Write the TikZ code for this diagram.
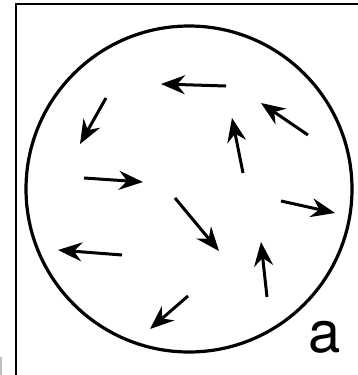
\documentclass[tikz,border=0pt]{standalone}
\usepackage{fontspec}
\setmainfont{TeX Gyre Heros}
\usetikzlibrary{arrows.meta}
\begin{document}
\begin{tikzpicture}[x=1pt,y=-1pt,
  vec/.style={line width=3pt,-{Stealth[length=24pt,width=19pt,inset=8pt]}},
  frameline/.style={line width=1.8pt},
  rim/.style={line width=3.2pt}]
\useasboundingbox (0,0) rectangle (358,375);
\fill[white] (0,0) rectangle (358,375);
\draw[frameline] (16,375) -- (16,4) -- (358,4);
\draw[line width=2pt,black!25] (1,357) -- (1,375);
\draw[rim] (189,189) circle[radius=163];
\coordinate (t1) at (226,86);  \coordinate (h1) at (161,84);
\coordinate (t2) at (106,98);  \coordinate (h2) at (80,144);
\coordinate (t3) at (308,135); \coordinate (h3) at (261,103);
\coordinate (t4) at (243,173); \coordinate (h4) at (232,118);
\coordinate (t5) at (84,178);  \coordinate (h5) at (143,182);
\coordinate (t6) at (175,198); \coordinate (h6) at (219,251);
\coordinate (t7) at (281,201); \coordinate (h7) at (335,213);
\coordinate (t8) at (122,255); \coordinate (h8) at (58,250);
\coordinate (t9) at (267,297); \coordinate (h9) at (261,242);
\coordinate (t10) at (188,296); \coordinate (h10) at (150,329);
\foreach \i in {1,...,10} \draw[vec] (t\i) -- (h\i);
\node[font=\fontsize{58}{58}\selectfont, anchor=base, inner sep=0pt] (lbl) at (325,352) {a};
\end{tikzpicture}
\end{document}
